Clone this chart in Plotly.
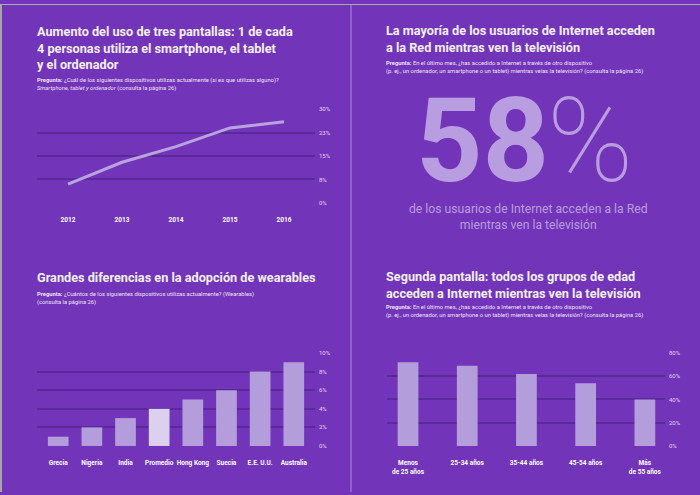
import plotly.graph_objects as go

W, H = 700, 495

# ---------------- data ----------------
years = ["2012", "2013", "2014", "2015", "2016"]
three_screens = [6, 13, 18, 24, 26]
y1_ticks = [0, 7.5, 15, 22.5, 30]
y1_labels = ["0%", "8%", "15%", "23%", "30%"]

countries = ["Grecia", "Nigeria", "India", "Promedio", "Hong Kong", "Suecia", "E.E. U.U.", "Australia"]
wearables = [1, 2, 3, 4, 5, 6, 8, 9]
y3_ticks = [0, 2, 4, 6, 8, 10]
y3_labels = ["0%", "2%", "4%", "6%", "8%", "10%"]

age_groups = ["Menos<br>de 25 años", "25-34 años", "35-44 años", "45-54 años", "Más<br>de 55 años"]
second_screen = [72, 69, 62, 54, 40]
y4_ticks = [0, 20, 40, 60, 80]
y4_labels = ["0%", "20%", "40%", "60%", "80%"]

big_number = "58"
# ---------------------------------------

BG = "#7234b8"
GRID = "#5a2a9a"
LAV = "#b39ddb"
LAV_LIGHT = "#dcd0ef"
LINE = "#b9a3df"
TITLE = "#f5f0fb"
SUB = "#ece4f7"
TICK = "#e2d6f3"
BIG = "#b89ee0"
FONT = "Roboto"


def px(x):
    return x / W


def py(y):
    return 1 - y / H


fig = go.Figure()

fig.add_trace(go.Scatter(x=years, y=three_screens, mode="lines",
                         line=dict(color=LINE, width=3), xaxis="x", yaxis="y",
                         hoverinfo="skip"))

bar_colors = [LAV_LIGHT if c == "Promedio" else LAV for c in countries]
fig.add_trace(go.Bar(x=countries, y=wearables, marker=dict(color=bar_colors, line=dict(width=0)),
                     width=0.615, xaxis="x3", yaxis="y3", hoverinfo="skip"))

fig.add_trace(go.Bar(x=age_groups, y=second_screen, marker=dict(color=LAV, line=dict(width=0)),
                     width=0.35, xaxis="x4", yaxis="y4", hoverinfo="skip"))

xfont = dict(family=FONT, size=6.5, color="#ffffff", weight="bold")
yfont = dict(family=FONT, size=6, color=TICK)

common_x = dict(showgrid=False, zeroline=False, showline=False, ticks="",
                tickfont=xfont, fixedrange=True, type="category", ticklabelstandoff=12)
common_y = dict(showgrid=True, gridcolor=GRID, gridwidth=1.5, zeroline=False, showline=False,
                ticks="", side="right", tickfont=yfont, tickmode="array", fixedrange=True,
                ticklabelstandoff=3)

fig.update_layout(
    width=W, height=H,
    margin=dict(l=0, r=0, t=0, b=0),
    paper_bgcolor=BG, plot_bgcolor=BG,
    showlegend=False,
    font=dict(family=FONT),
    xaxis=dict(domain=[px(37), px(315)], range=[-0.574, 4.574], anchor="y", **common_x),
    yaxis=dict(domain=[py(201.7), py(106.7)], range=[0, 30], anchor="x",
               tickvals=y1_ticks, ticktext=y1_labels, **common_y),
    xaxis3=dict(domain=[px(37), px(315)], range=[-0.63, 7.63], anchor="y3", **common_x),
    yaxis3=dict(domain=[py(448.3), py(354)], range=[0, 10], anchor="x3",
                tickvals=y3_ticks, ticktext=y3_labels, **common_y),
    xaxis4=dict(domain=[px(386.7), px(665)], range=[-0.36, 4.34], anchor="y4", **common_x),
    yaxis4=dict(domain=[py(448.3), py(354)], range=[0, 80], anchor="x4",
                tickvals=y4_ticks, ticktext=y4_labels, **common_y),
)

annotations = []


def text(x, y, s, size, color, weight="normal", xanchor="left", align="left", yanchor="top"):
    annotations.append(dict(x=px(x), y=py(y), xref="paper", yref="paper", text=s,
                            showarrow=False, xanchor=xanchor, yanchor=yanchor, align=align,
                            borderpad=0,
                            font=dict(family=FONT, size=size, color=color, weight=weight)))


TS = 12.7
SS = 5.8

# top-left
text(36, 19.5, "Aumento del uso de tres pantallas: 1 de cada<br>4 personas utiliza el smartphone, el tablet<br>y el ordenador",
     TS, TITLE, "bold")
text(36, 73.5, "<b>Pregunta:</b> ¿Cuál de los siguientes dispositivos utilizas actualmente (si es que utilizas alguno)?"
     "<br><i>Smartphone, tablet y ordenador</i> (consulta la página 26)", SS, SUB)

# top-right
text(385, 18, "La mayoría de los usuarios de Internet acceden<br>a la Red mientras ven la televisión",
     TS, TITLE, "bold")
text(385, 55.5, "<b>Pregunta:</b> En el último mes, ¿has accedido a Internet a través de otro dispositivo"
     "<br>(p. ej., un ordenador, un smartphone o un tablet) mientras veías la televisión? (consulta la página 26)",
     SS, SUB)

annotations.append(dict(x=px(551), y=py(139), xref="paper", yref="paper", text=big_number,
                        showarrow=False, xanchor="right", yanchor="middle",
                        font=dict(family=FONT, size=116, color=BIG, weight="bold")))
annotations.append(dict(x=px(545), y=py(139), xref="paper", yref="paper", text="%",
                        showarrow=False, xanchor="left", yanchor="middle",
                        font=dict(family=FONT, size=116, color=BIG, weight=100)))
text(528, 199.5, "de los usuarios de Internet acceden a la Red<br>mientras ven la televisión", 12.2, BIG,
     xanchor="center", align="center")

# bottom-left
text(36, 268.5, "Grandes diferencias en la adopción de wearables", TS, TITLE, "bold")
text(36, 290, "<b>Pregunta:</b> ¿Cuántos de los siguientes dispositivos utilizas actualmente? (Wearables)"
     "<br>(consulta la página 26)", SS, SUB)

# bottom-right
text(385, 267.5, "Segunda pantalla: todos los grupos de edad<br>acceden a Internet mientras ven la televisión",
     TS, TITLE, "bold")
text(385, 303.5, "<b>Pregunta:</b> En el último mes, ¿has accedido a Internet a través de otro dispositivo"
     "<br>(p. ej., un ordenador, un smartphone o un tablet) mientras veías la televisión? (consulta la página 26)",
     SS, SUB)

fig.update_layout(annotations=annotations)

shapes = [
    dict(type="line", xref="paper", yref="paper", x0=px(351), x1=px(351), y0=0, y1=1,
         line=dict(color="#9a72d0", width=1.5)),
    dict(type="rect", xref="paper", yref="paper", x0=0, x1=px(2), y0=0, y1=1,
         line=dict(width=0), fillcolor="#a9a6ad"),
    dict(type="rect", xref="paper", yref="paper", x0=0, x1=1, y0=py(1), y1=1,
         line=dict(width=0), fillcolor="#a9a6ad"),
]
fig.update_layout(shapes=shapes)

fig.write_html("out.html", config={"displayModeBar": False},
               post_script="document.body.style.margin='0';document.body.style.padding='0';"
                           "document.body.style.overflow='hidden';")
